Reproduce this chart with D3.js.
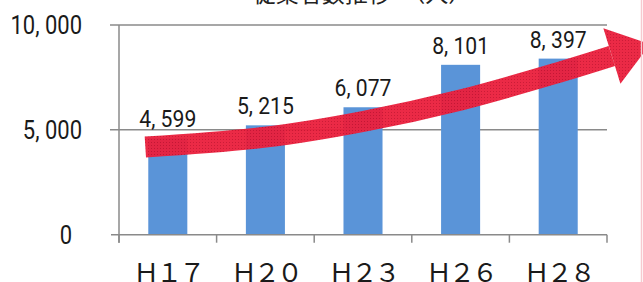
<!DOCTYPE html>
<html>
<head>
<meta charset="utf-8">
<script src="https://cdn.jsdelivr.net/npm/d3@7"></script>
<style>
  body { margin: 0; background: #fff; }
  svg { display: block; }
</style>
</head>
<body>
<div id="vis"></div>
<script>
var width = 643;
var height = 282;

// data
var years = ["Ｈ１７", "Ｈ２０", "Ｈ２３", "Ｈ２６", "Ｈ２８"];
var workers = [4599, 5215, 6077, 8101, 8397];
var yTicks = [0, 5000, 10000];
var title = "従業者数推移　（人）";

// the red trend arrow, as (band index, value) pairs
var arrowIdx = [0.27, 1.5, 2.5, 3.5, 4.52, 5.05];
var arrowVal = [4180, 4650, 5400, 6425, 7760, 8520];

var left = 119, right = 607, top0 = 25, bottom0 = 234.7;

var svg = d3.select("#vis").append("svg")
  .attr("width", width)
  .attr("height", height);

var x = d3.scaleBand().domain(years).range([left, right])
  .paddingInner(0.6).paddingOuter(0.3);
var edge = d3.scaleLinear().domain([0, years.length]).range([left, right]);
var y = d3.scaleLinear().domain([0, 10000]).range([bottom0, top0]);

var fmt = function(v) { return d3.format(",")(v).replace(",", ", "); };

// dotted texture for the arrow
var defs = svg.append("defs");
var pat = defs.append("pattern").attr("id", "dots")
  .attr("width", 3).attr("height", 3).attr("patternUnits", "userSpaceOnUse");
pat.append("rect").attr("width", 3).attr("height", 3).attr("fill", "#ea1f3c");
pat.append("rect").attr("x", 1).attr("y", 1).attr("width", 1).attr("height", 1).attr("fill", "#c8102c");

// title, mostly cut off at the top
svg.append("text")
  .attr("x", 362).attr("y", 2)
  .attr("text-anchor", "middle")
  .attr("font-family", "Noto Sans CJK JP")
  .attr("font-size", 23)
  .attr("fill", "#222")
  .text(title);

// grid lines
svg.append("g").selectAll("line")
  .data(yTicks.filter(function(d) { return d > 0; }))
  .enter().append("line")
  .attr("x1", left - 9).attr("x2", right)
  .attr("y1", function(d) { return y(d); })
  .attr("y2", function(d) { return y(d); })
  .attr("stroke", "#8a8a8a")
  .attr("stroke-width", 1.5);

// bars
svg.append("g").selectAll("rect")
  .data(workers)
  .enter().append("rect")
  .attr("x", function(d, i) { return x(years[i]); })
  .attr("y", function(d) { return y(d); })
  .attr("width", x.bandwidth())
  .attr("height", function(d) { return y(0) - y(d); })
  .attr("fill", "#5a94d8");

// axes
svg.append("line")
  .attr("x1", left - 8).attr("x2", right)
  .attr("y1", y(0)).attr("y2", y(0))
  .attr("stroke", "#8a8a8a").attr("stroke-width", 1.5);
svg.append("line")
  .attr("x1", left).attr("x2", left)
  .attr("y1", y(10000)).attr("y2", y(0) + 8)
  .attr("stroke", "#8a8a8a").attr("stroke-width", 1.5);
svg.append("g").selectAll("line")
  .data(d3.range(years.length + 1))
  .enter().append("line")
  .attr("x1", function(d) { return edge(d); })
  .attr("x2", function(d) { return edge(d); })
  .attr("y1", y(0)).attr("y2", y(0) + 8)
  .attr("stroke", "#8a8a8a").attr("stroke-width", 1.5);

// y tick labels (narrowed a bit like the original font)
svg.append("g").selectAll("text")
  .data(yTicks)
  .enter().append("text")
  .attr("transform", function(d) {
    return "translate(" + (d === 0 ? 72 : 82) + "," + y(d) + ") scale(0.88,1)";
  })
  .attr("dy", "0.36em")
  .attr("text-anchor", "end")
  .attr("font-family", "Roboto")
  .attr("font-size", 25)
  .attr("fill", "#1a1a1a")
  .text(fmt);

// x labels
svg.append("g").selectAll("text")
  .data(years)
  .enter().append("text")
  .attr("x", function(d) { return x(d) + x.bandwidth() / 2; })
  .attr("y", 282)
  .attr("text-anchor", "middle")
  .attr("font-family", "Noto Sans CJK JP")
  .attr("font-size", 26)
  .attr("letter-spacing", -3)
  .attr("fill", "#1a1a1a")
  .text(function(d) { return d; });

// arrow shaft
var pts = arrowIdx.map(function(d, i) { return [edge(d), y(arrowVal[i])]; });
svg.append("path")
  .attr("d", d3.line().curve(d3.curveCatmullRom)(pts))
  .attr("fill", "none")
  .attr("stroke", "url(#dots)")
  .attr("stroke-width", 21)
  .attr("opacity", 0.95);

// arrow head
var p1 = pts[pts.length - 2], p2 = pts[pts.length - 1];
var dx = p2[0] - p1[0], dy = p2[1] - p1[1];
var len = Math.sqrt(dx * dx + dy * dy);
var ux = dx / len, uy = dy / len, nx = -uy, ny = ux;
var hw = 29, hl = 40;
var head = [
  [p2[0] + nx * hw, p2[1] + ny * hw],
  [p2[0] + ux * hl, p2[1] + uy * hl],
  [p2[0] - nx * hw, p2[1] - ny * hw]
];
svg.append("path")
  .attr("d", "M" + head.join("L") + "Z")
  .attr("fill", "url(#dots)")
  .attr("opacity", 0.95);

// value labels
svg.append("g").selectAll("text")
  .data(workers)
  .enter().append("text")
  .attr("transform", function(d, i) {
    return "translate(" + (x(years[i]) + x.bandwidth() / 2) + "," + (y(d) - 11) + ") scale(0.92,1)";
  })
  .attr("text-anchor", "middle")
  .attr("font-family", "Roboto")
  .attr("font-size", 23)
  .attr("fill", "#1a1a1a")
  .text(fmt);

// pink scan edge on the right
svg.append("line")
  .attr("x1", 641.5).attr("x2", 641.5)
  .attr("y1", 0).attr("y2", height)
  .attr("stroke", "#f6c9cf").attr("stroke-width", 1.5);
</script>
</body>
</html>
